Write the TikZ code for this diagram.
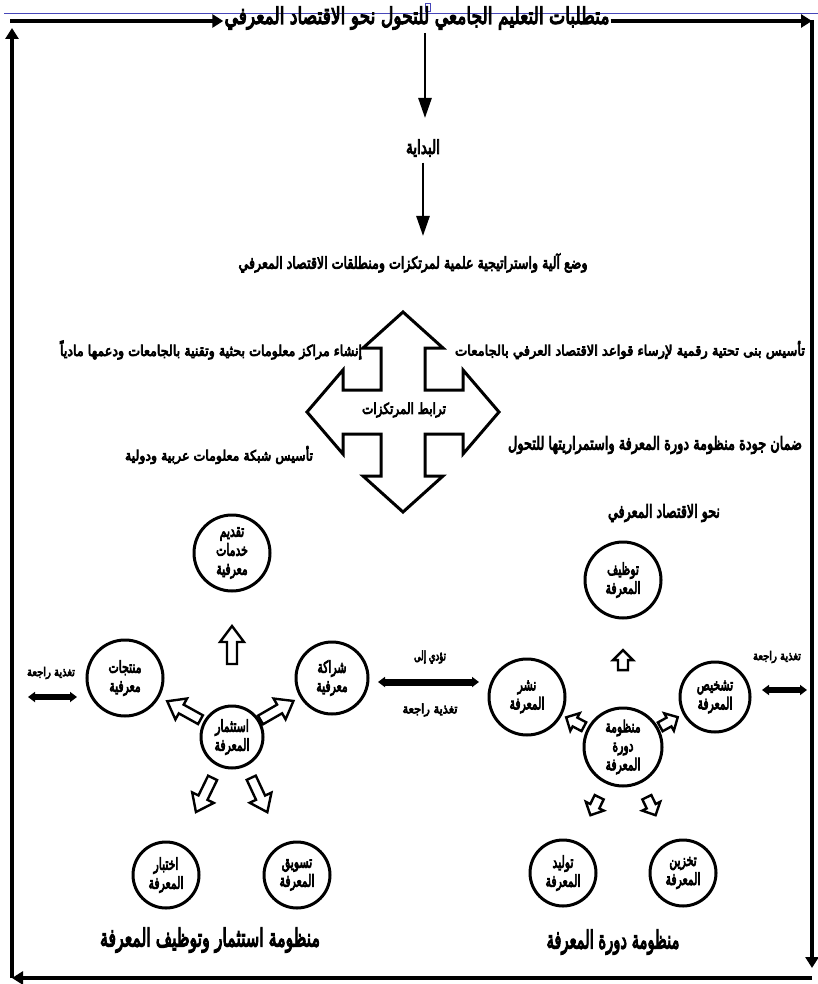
\documentclass[tikz,border=0pt]{standalone}
\usepackage{fontspec}
\usepackage{graphicx}
\newfontfamily\arabicfont[Script=Arabic,FakeBold=5.5]{DejaVu Sans}
\TeXXeTstate=1
\usetikzlibrary{arrows.meta,calc}
% #1 width, #2 total height, #3 text
\newcommand\arw[3]{\resizebox*{#1}{#2}{\arabicfont #3}}
% circle line
\newcommand\arc[1]{\scalebox{0.66}[1]{\arabicfont #1}}
\begin{document}
\begin{tikzpicture}[x=1pt,y=-1pt,
  frm/.style={line width=3.8pt},
  ftip/.style={-{Triangle[length=11pt,width=13pt]}},
  dn/.style={line width=2.6pt,-{Triangle[length=20pt,width=13pt]}},
  circ/.style={circle,draw,line width=3pt,inner sep=0pt,align=center,font=\fontsize{16.5}{19}\selectfont},
  lbl/.style={inner sep=1pt,align=center},
  fb/.style={line width=5.5pt,{Triangle[length=7pt,width=10pt]}-{Triangle[length=7pt,width=10pt]}},
  blkL/.pic={\draw[line width=2.4pt,line join=miter,fill=white] (-5,19) -- (-5,-3) -- (-12,-3) -- (0,-19) -- (12,-3) -- (5,-3) -- (5,19) -- cycle;},
  blkS/.pic={\draw[line width=2.4pt,line join=miter,fill=white] (-5,10) -- (-5,0) -- (-10,0) -- (0,-10) -- (10,0) -- (5,0) -- (5,10) -- cycle;}
]
\useasboundingbox (0,0) rectangle (818,984);
\fill[white] (0,0) rectangle (818,984);

% word artefact line
\draw[line width=0.8pt,color=blue!45!gray] (4,13) -- (818,13);
\draw[line width=0.7pt,color=blue!45!gray,fill=white] (425.5,3) rectangle (430.5,11);

% title
\node[lbl] (title) at (417,18) {\arw{385pt}{23pt}{\beginR متطلبات التعليم الجامعي للتحول نحو الاقتصاد المعرفي\endR}};

% frame
\coordinate (tl) at (10,21);
\coordinate (tr) at (812,21);
\coordinate (rb) at (812,968);
\coordinate (br) at (812,978);
\coordinate (bl) at (12,978);
\coordinate (lt) at (12,28);
\draw[frm,ftip] (tl) -- (title.west |- tl);
\draw[frm,ftip] (title.east |- tl) -- (tr);
\draw[frm,ftip] (812,20) -- (rb);
\draw[frm,ftip] (br) -- (bl);
\draw[frm,ftip] (bl) -- (lt);

% start
\node[lbl] (bid) at (423,148) {\arw{34pt}{17pt}{\beginR البداية\endR}};
\node[lbl] (wad) at (413,263) {\arw{349pt}{19pt}{\beginR وضع آلية واستراتيجية علمية لمرتكزات ومنطلقات الاقتصاد المعرفي\endR}};
\draw[dn] (425,33) -- (425,118);
\draw[dn] (bid.south) ++(0,5) -- (423,236);

% quad arrow
\draw[line width=3pt,line join=miter,fill=white]
 (403,312) -- (443,348) -- (425,348) -- (425,390) -- (463,390) -- (463,370) -- (499,412)
 -- (463,454) -- (463,434) -- (425,434) -- (425,476) -- (443,476) -- (403,512)
 -- (363,476) -- (381,476) -- (381,434) -- (343,434) -- (343,454) -- (307,412)
 -- (343,370) -- (343,390) -- (381,390) -- (381,348) -- (363,348) -- cycle;
\node[lbl] (trb) at (404,410) {\arw{84pt}{15pt}{\beginR ترابط المرتكزات\endR}};

\node[lbl] (r1) at (630,350) {\arw{350pt}{18pt}{\beginR تأسيس بنى تحتية رقمية لإرساء قواعد الاقتصاد العرفي بالجامعات\endR}};
\node[lbl] (r2) at (655,445) {\arw{294pt}{18pt}{\beginR ضمان جودة منظومة دورة المعرفة واستمراريتها للتحول\endR}};
\node[lbl] (l1) at (211,350) {\arw{302pt}{19pt}{\beginR إنشاء مراكز معلومات بحثية وتقنية بالجامعات ودعمها مادياً\endR}};
\node[lbl] (l2) at (219,455) {\arw{188pt}{18pt}{\beginR تأسيس شبكة معلومات عربية ودولية\endR}};
\node[lbl] (nahw) at (664,513) {\arw{112pt}{18pt}{\beginR نحو الاقتصاد المعرفي\endR}};

% left system
\node[circ,minimum size=76pt] (tqd) at (232,553) {\arc{\beginR تقديم\endR}\\\arc{\beginR خدمات\endR}\\\arc{\beginR معرفية\endR}};
\node[circ,minimum size=76pt] (mnt) at (125,678) {\arc{\beginR منتجات\endR}\\\arc{\beginR معرفية\endR}};
\node[circ,minimum size=72pt] (shr) at (332,678) {\arc{\beginR شراكة\endR}\\\arc{\beginR معرفية\endR}};
\node[circ,minimum size=62pt] (ist) at (232,737) {\arc{\beginR استثمار\endR}\\\arc{\beginR المعرفة\endR}};
\node[circ,minimum size=66pt] (ikh) at (166,875) {\arc{\beginR اختبار\endR}\\\arc{\beginR المعرفة\endR}};
\node[circ,minimum size=66pt] (tsw) at (297,875) {\arc{\beginR تسويق\endR}\\\arc{\beginR المعرفة\endR}};
\pic[rotate=0] at ($(ist)!0.5!(tqd)$) {blkL};
\pic[rotate=61] at ($(ist)!0.45!(mnt)$) {blkL};
\pic[rotate=-60] at ($(ist)!0.45!(shr)$) {blkL};
\pic[rotate=154] at ($(ist)!0.42!(ikh)$) {blkL};
\pic[rotate=205] at ($(ist)!0.42!(tsw)$) {blkL};
\node[lbl] (fbl) at (51,673) {\arw{48pt}{12pt}{\beginR تغذية راجعة\endR}};
\coordinate (fbl1) at (28,697);
\coordinate (fbl2) at (77,697);
\draw[fb] (fbl1) -- (fbl2);

% middle
\node[lbl] (tod) at (430,657) {\arw{32pt}{13pt}{\beginR تؤدي إلى\endR}};
\node[lbl] (fbm) at (430,710) {\arw{55pt}{13pt}{\beginR تغذية راجعة\endR}};
\coordinate (m1) at (378,682);
\coordinate (m2) at (479,682);
\draw[fb,line width=7pt] (m1) -- (m2);

% right system
\node[circ,minimum size=76pt] (twz) at (623,580) {\arc{\beginR توظيف\endR}\\\arc{\beginR المعرفة\endR}};
\node[circ,minimum size=76pt] (nsh) at (527,697) {\arc{\beginR نشر\endR}\\\arc{\beginR المعرفة\endR}};
\node[circ,minimum size=70pt] (tsh) at (715,697) {\arc{\beginR تشخيص\endR}\\\arc{\beginR المعرفة\endR}};
\node[circ,minimum size=78pt] (mnz) at (623,747) {\arc{\beginR منظومة\endR}\\\arc{\beginR دورة\endR}\\\arc{\beginR المعرفة\endR}};
\node[circ,minimum size=66pt] (twl) at (563,873) {\arc{\beginR توليد\endR}\\\arc{\beginR المعرفة\endR}};
\node[circ,minimum size=66pt] (tkh) at (683,873) {\arc{\beginR تخزين\endR}\\\arc{\beginR المعرفة\endR}};
\pic[rotate=0] at ($(mnz)!0.52!(twz)$) {blkS};
\pic[rotate=62] at ($(mnz)!0.5!(nsh)$) {blkS};
\pic[rotate=-61] at ($(mnz)!0.5!(tsh)$) {blkS};
\pic[rotate=154] at ($(mnz)!0.47!(twl)$) {blkS};
\pic[rotate=206] at ($(mnz)!0.47!(tkh)$) {blkS};
\node[lbl] (fbr) at (777,657) {\arw{48pt}{12pt}{\beginR تغذية راجعة\endR}};
\coordinate (fbr1) at (762,690);
\coordinate (fbr2) at (807,690);
\draw[fb] (fbr1) -- (fbr2);

% bottom titles
\node[lbl] (tl1) at (210,940) {\arw{220pt}{25pt}{\beginR منظومة استثمار وتوظيف المعرفة\endR}};
\node[lbl] (tl2) at (613,942) {\arw{133pt}{25pt}{\beginR منظومة دورة المعرفة\endR}};
\end{tikzpicture}
\end{document}
